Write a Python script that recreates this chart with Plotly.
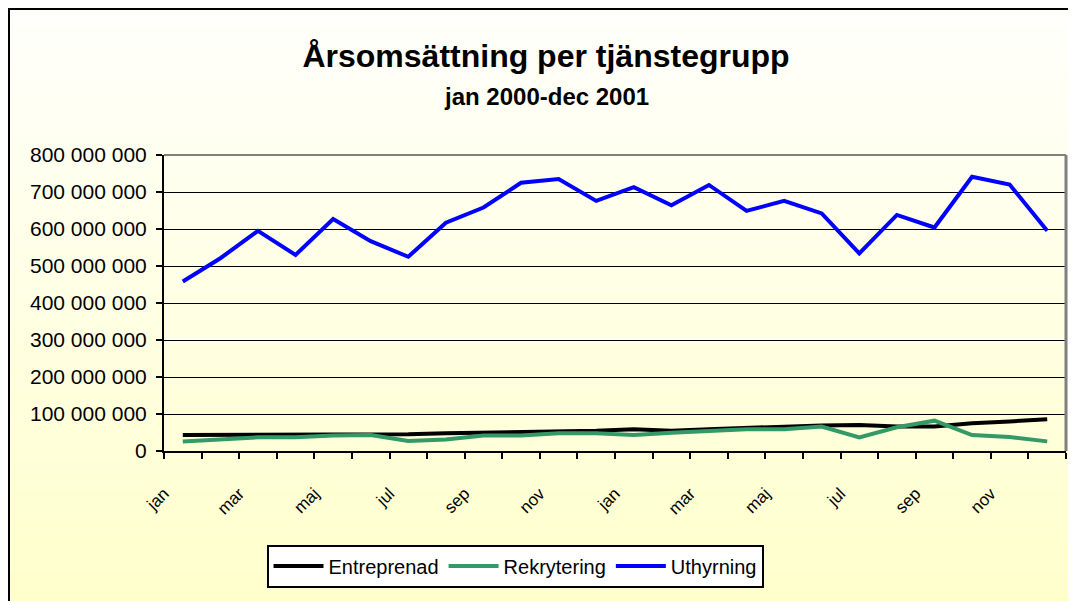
import plotly.graph_objects as go

# Månader jan 2000 - dec 2001
months = ["jan", "feb", "mar", "apr", "maj", "jun",
          "jul", "aug", "sep", "okt", "nov", "dec"] * 2

# Omsättning i miljoner kr
entreprenad = [43, 43, 43, 43, 43, 44, 45, 48, 50, 50, 52, 55,
               59, 55, 59, 63, 66, 69, 70, 66, 66, 75, 80, 86]
rekrytering = [26, 31, 37, 37, 42, 43, 27, 31, 42, 42, 48, 48,
               43, 49, 55, 59, 59, 66, 37, 64, 82, 43, 38, 26]
uthyrning = [458, 521, 595, 530, 627, 567, 525, 617, 658, 725, 735, 676,
             713, 664, 719, 649, 676, 642, 534, 638, 604, 741, 720, 595]

series = [
    ("Entreprenad", entreprenad, "#000000"),
    ("Rekrytering", rekrytering, "#339966"),
    ("Uthyrning", uthyrning, "#0000FF"),
]

FONT = "Arial, Liberation Sans, sans-serif"
OFF = 8  # sidans body-marginal
W, H = 1076 - OFF, 601 - OFF
L, T = 164 - OFF, 155 - OFF
R = W - (1066 - OFF)
B = H - (451 - OFF)


def py_to_paper(py):
    # py i sidkoordinater
    return (H - B - (py - OFF)) / (H - T - B)


def px_to_paper(px):
    return ((px - OFF) - L) / (W - L - R)


def main() -> None:
    x = list(range(len(months)))
    fig = go.Figure()
    for name, vals, color in series:
        fig.add_trace(go.Scatter(
            x=x, y=[v * 1_000_000 for v in vals], name=name, mode="lines",
            line=dict(color=color, width=4),
        ))

    # bakgrund: gradient vit -> ljusgul
    shapes = []
    steps = 60
    top, bottom = 6, 601
    for i in range(steps):
        y0 = top + (bottom - top) * i / steps
        y1 = top + (bottom - top) * (i + 1) / steps
        f = (i + 0.5) / steps
        b = round(252 - (252 - 204) * f)
        shapes.append(dict(
            type="rect", xref="paper", yref="paper", layer="below",
            x0=px_to_paper(7), x1=px_to_paper(1100),
            y0=py_to_paper(y1 + 1), y1=py_to_paper(y0),
            fillcolor=f"rgb(255,255,{b})", line=dict(width=0),
        ))
    # ram runt diagrammet
    shapes.append(dict(
        type="rect", xref="paper", yref="paper", layer="above",
        x0=px_to_paper(9), x1=px_to_paper(1100),
        y0=py_to_paper(640), y1=py_to_paper(9),
        line=dict(color="black", width=2),
    ))
    # grå kant överst och till höger om ritytan
    shapes.append(dict(type="line", xref="paper", yref="paper",
                       x0=0, x1=1, y0=1, y1=1,
                       line=dict(color="#808080", width=2)))
    shapes.append(dict(type="line", xref="paper", yref="paper",
                       x0=1, x1=1, y0=0, y1=1,
                       line=dict(color="#808080", width=3)))

    # etiketter vid kategorigränser, varannan månad
    tickvals = [i - 0.5 for i in range(len(months) + 1)]
    ticktext = [(months[i] if i % 2 == 0 else "") if i < len(months) else ""
                for i in range(len(months) + 1)]

    fig.update_layout(
        width=W, height=H,
        margin=dict(l=L, r=R, t=T, b=B),
        paper_bgcolor="white",
        plot_bgcolor="rgba(0,0,0,0)",
        separators=", ",
        font=dict(family=FONT, color="black"),
        title=dict(
            text="<b>Årsomsättning per tjänstegrupp</b>",
            font=dict(size=32, family=FONT, color="black"),
            x=(546 - OFF) / W, xanchor="center", xref="container",
            y=1 - (56 - OFF) / H, yanchor="middle", yref="container",
        ),
        annotations=[dict(
            text="<b>jan 2000-dec 2001</b>", showarrow=False,
            xref="paper", yref="paper",
            x=px_to_paper(546), y=py_to_paper(96),
            xanchor="center", yanchor="middle",
            font=dict(size=24, family=FONT, color="black"),
        )],
        shapes=shapes,
        xaxis=dict(
            range=[-0.5, len(months) - 0.5],
            tickmode="array", tickvals=tickvals, ticktext=ticktext,
            tickangle=-45, ticks="outside", ticklen=6, tickwidth=2,
            tickcolor="black", ticklabelstandoff=18,
            tickfont=dict(size=17, family=FONT, color="black"),
            showline=True, linecolor="black", linewidth=2,
            showgrid=False, zeroline=False,
        ),
        yaxis=dict(
            range=[0, 800_000_000], dtick=100_000_000,
            tickformat=",.0f", ticks="outside", ticklen=6, tickwidth=2,
            tickcolor="black", ticklabelstandoff=5,
            tickfont=dict(size=21, family=FONT, color="black"),
            showline=True, linecolor="black", linewidth=2,
            showgrid=True, gridcolor="black", gridwidth=1,
            zeroline=False,
        ),
        legend=dict(
            orientation="h",
            x=px_to_paper(515), y=py_to_paper(566),
            xanchor="center", yanchor="middle",
            bgcolor="white", bordercolor="black", borderwidth=2,
            font=dict(size=20, family=FONT, color="black"),
            itemwidth=50,
        ),
        showlegend=True,
    )
    fig.write_html("out.html")


if __name__ == "__main__":
    main()
